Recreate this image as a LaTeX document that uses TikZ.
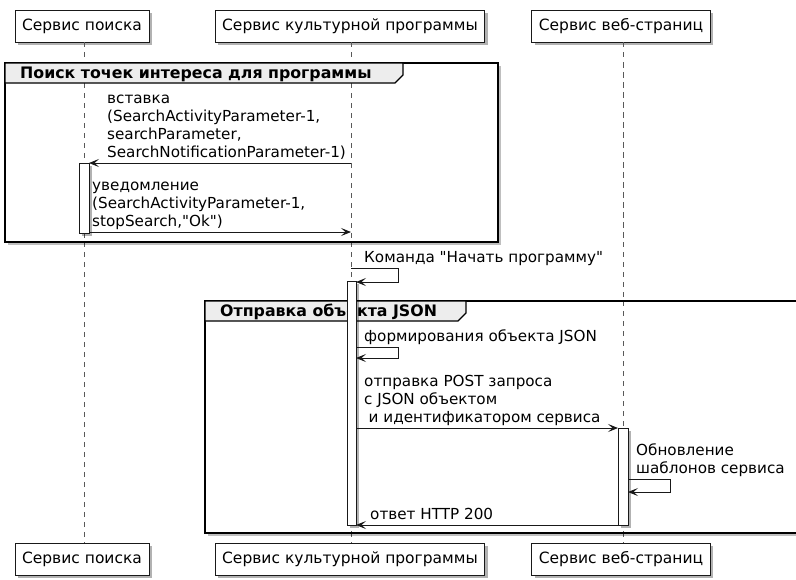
\documentclass[tikz,border=0pt]{standalone}
\usepackage{fontspec}
\setmainfont{DejaVu Sans}[Ligatures=TeXOff]
\usetikzlibrary{arrows.meta,shadows}
\begin{document}
\begin{tikzpicture}[x=1pt,y=-1pt,
  shd/.style={drop shadow={shadow xshift=3pt,shadow yshift=-3pt,opacity=0.3,fill=black}},
  part/.style={draw=black!90,line width=0.9pt,fill=white,minimum height=32pt,inner xsep=7pt,inner ysep=0pt,
    font=\fontsize{15.5}{18}\selectfont,shd},
  lifeline/.style={draw=black!65,line width=0.9pt,dash pattern=on 5pt off 5pt},
  grp/.style={draw=black,line width=2pt},
  grptab/.style={draw=black,line width=1.3pt,fill=black!7},
  grptitle/.style={anchor=base west,inner sep=0pt,font=\fontsize{15.8}{18}\selectfont\bfseries},
  actbar/.style={draw=black!90,line width=0.9pt,fill=white,shd},
  msg/.style={draw=black!90,line width=0.9pt,-{Stealth[length=10pt,width=8pt,inset=4.5pt]}},
  lbl/.style={anchor=base west,inner sep=0pt,align=left,font=\fontsize{15.2}{18}\selectfont}
]
\useasboundingbox (0,0) rectangle (796,579);
\fill[white] (0,0) rectangle (796,579);

% participants
\node[part] (p1t) at (82,26) {Сервис поиска};
\node[part] (p2t) at (350,26) {Сервис культурной программы};
\node[part] (p3t) at (621,26) {Сервис веб-страниц};
\node[part] (p1b) at (82,559) {Сервис поиска};
\node[part] (p2b) at (350,559) {Сервис культурной программы};
\node[part] (p3b) at (621,559) {Сервис веб-страниц};

% lifelines
\coordinate (L1t) at (84,42); \coordinate (L1b) at (84,543);
\coordinate (L2t) at (351,42); \coordinate (L2b) at (351,543);
\coordinate (L3t) at (623,42); \coordinate (L3b) at (623,543);
\draw[lifeline] (L1t) -- (L1b);
\draw[lifeline] (L2t) -- (L2b);
\draw[lifeline] (L3t) -- (L3b);

% group 1
\fill[black,opacity=0.25] (8,66) rectangle (501,245);
\fill[white] (5,63) rectangle (498,242);
\draw[lifeline] (84,63) -- (84,242);
\draw[lifeline] (351,63) -- (351,242);
\draw[lifeline] (623,63) -- (623,242);
\draw[grp] (5,63) rectangle (498,242);
\draw[grptab] (5,63) -- (403,63) -- (403,75) -- (395,83) -- (5,83) -- cycle;
\node[grptitle] (g1) at (20,78.5) {Поиск точек интереса для программы};

% group 2
\fill[black,opacity=0.25] (208,304) rectangle (810,536);
\fill[white] (205,301) rectangle (805,533);
\draw[lifeline] (351,301) -- (351,533);
\draw[lifeline] (623,301) -- (623,533);
\draw[grp] (205,301) rectangle (805,533);
\draw[grptab] (205,301) -- (466,301) -- (466,313) -- (458,321) -- (205,321) -- cycle;
\node[grptitle] (g2) at (220,316.5) {Отправка объекта JSON};

% activation bars
\draw[actbar] (79,163) rectangle (89,233);
\draw[actbar] (347,281) rectangle (356,525);
\draw[actbar] (618,428) rectangle (628,525);

% message end points
\coordinate (m1s) at (351,163); \coordinate (m1e) at (89,163);
\coordinate (m2s) at (89,232);  \coordinate (m2e) at (351,232);
\coordinate (m3s) at (351,268); \coordinate (m3e) at (356,282);
\coordinate (m4s) at (356,347); \coordinate (m4e) at (356,358);
\coordinate (m5s) at (356,428); \coordinate (m5e) at (618,428);
\coordinate (m6s) at (628,479); \coordinate (m6e) at (628,492);
\coordinate (m7s) at (618,525); \coordinate (m7e) at (356,525);

% messages
\draw[msg] (m1s) -- (m1e);
\node[lbl] (l1) at (107,157) {вставка\\(SearchActivityParameter-1,\\searchParameter,\\SearchNotificationParameter-1)};
\draw[msg] (m2s) -- (m2e);
\node[lbl] (l2) at (92,226) {уведомление\\(SearchActivityParameter-1,\\stopSearch,"Ok")};
\draw[msg] (m3s) -- (398,268) |- (m3e);
\node[lbl] (l3) at (364,262) {Команда "Начать программу"};
\draw[msg] (m4s) -- (398,347) |- (m4e);
\node[lbl] (l4) at (364,341) {формирования объекта JSON};
\draw[msg] (m5s) -- (m5e);
\node[lbl] (l5) at (364,422) {отправка POST запроса\\с JSON объектом\\\hspace*{4.5pt}и идентификатором сервиса};
\draw[msg] (m6s) -- (670,479) |- (m6e);
\node[lbl] (l6) at (636,473) {Обновление\\шаблонов сервиса};
\draw[msg] (m7s) -- (m7e);
\node[lbl] (l7) at (370,519) {ответ HTTP 200};
\end{tikzpicture}
\end{document}
